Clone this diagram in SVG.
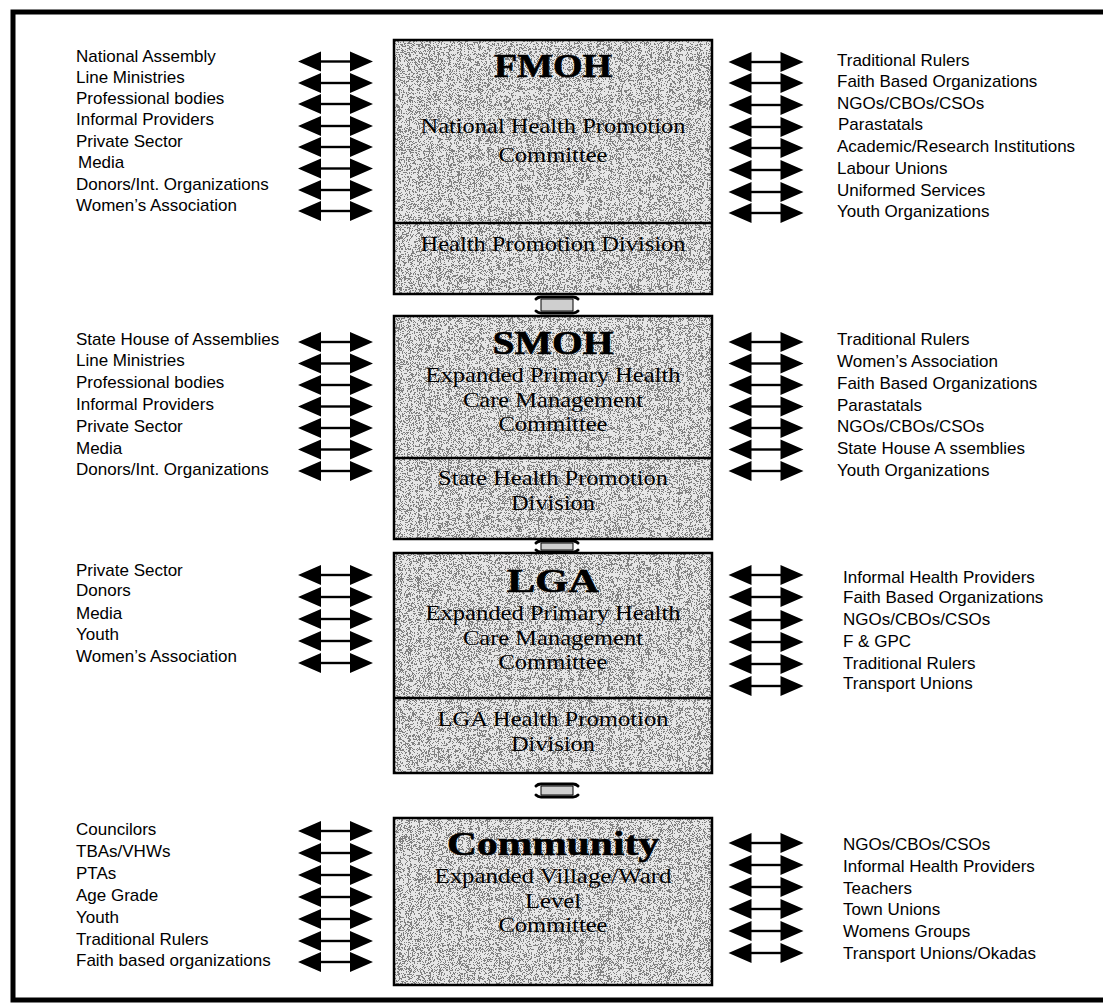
<svg xmlns="http://www.w3.org/2000/svg" xmlns:xlink="http://www.w3.org/1999/xlink" width="1103" height="1005" viewBox="0 0 1103 1005">
<style>
.lbl{font-family:"Liberation Sans",Arial,sans-serif;font-size:17px;fill:#000}
.bx{font-family:"Liberation Serif","Times New Roman",serif;font-size:22px;fill:#000;text-anchor:middle}
.tt{font-family:"Liberation Serif","Times New Roman",serif;font-size:33px;font-weight:bold;fill:#000;text-anchor:middle;stroke:#000;stroke-width:0.6}
.bg{fill:#e6e6e6;filter:url(#grain)}
.ol{fill:none;stroke:#000;stroke-width:2.5}
.dv{stroke:#000;stroke-width:2.5}
.cn{fill:#cfcfcf;stroke:#000;stroke-width:1}
.cb{stroke:#000;stroke-width:3;fill:none;stroke-linecap:round}
</style>
<defs>
<filter id="grain" x="0" y="0" width="1" height="1">
<feTurbulence type="fractalNoise" baseFrequency="1.1" numOctaves="1" seed="4" result="n"/>
<feColorMatrix in="n" type="matrix" values="0 0 0 0 0  0 0 0 0 0  0 0 0 0 0  1 0 0 0 0" result="a"/>
<feComponentTransfer in="a" result="t"><feFuncA type="discrete" tableValues="0 0 0 0 0 1 0 0 0 0"/></feComponentTransfer>
<feFlood flood-color="#808080" result="f"/>
<feComposite in="f" in2="t" operator="in" result="dots"/>
<feMerge result="m"><feMergeNode in="SourceGraphic"/><feMergeNode in="dots"/></feMerge>
<feComposite in="m" in2="SourceGraphic" operator="in"/>
</filter>
<g id="dbl">
<path d="M-37.5,0 L-14.5,-10 L-14.5,10 Z M37.5,0 L14.5,-10 L14.5,10 Z" fill="#000"/>
<line x1="-15" y1="0" x2="15" y2="0" stroke="#000" stroke-width="2.4"/>
</g>
</defs>
<rect x="0" y="0" width="1103" height="1005" fill="#fff"/>
<rect x="13" y="12" width="1100" height="988" fill="none" stroke="#000" stroke-width="5"/>

<g id="fmoh">
<rect x="394" y="40" width="318" height="254" class="bg"/>
<rect x="394" y="40" width="318" height="254" class="ol"/>
<line x1="394" y1="223" x2="712" y2="223" class="dv"/>
<text x="553" y="77" class="tt" textLength="118" lengthAdjust="spacingAndGlyphs">FMOH</text>
<text x="553" y="133" class="bx" textLength="265" lengthAdjust="spacingAndGlyphs">National Health Promotion</text>
<text x="553" y="162" class="bx" textLength="109" lengthAdjust="spacingAndGlyphs">Committee</text>
<text x="553" y="251" class="bx" textLength="265" lengthAdjust="spacingAndGlyphs">Health Promotion Division</text>
</g>

<g id="smoh">
<rect x="394" y="316" width="318" height="223" class="bg"/>
<rect x="394" y="316" width="318" height="223" class="ol"/>
<line x1="394" y1="458" x2="712" y2="458" class="dv"/>
<text x="553" y="354" class="tt" textLength="121" lengthAdjust="spacingAndGlyphs">SMOH</text>
<text x="553" y="382" class="bx" textLength="255" lengthAdjust="spacingAndGlyphs">Expanded Primary Health</text>
<text x="553" y="406.5" class="bx" textLength="180" lengthAdjust="spacingAndGlyphs">Care Management</text>
<text x="553" y="431" class="bx" textLength="109" lengthAdjust="spacingAndGlyphs">Committee</text>
<text x="553" y="485" class="bx" textLength="230" lengthAdjust="spacingAndGlyphs">State Health Promotion</text>
<text x="553" y="510" class="bx" textLength="84" lengthAdjust="spacingAndGlyphs">Division</text>
</g>

<g id="lga">
<rect x="394" y="553" width="318" height="220" class="bg"/>
<rect x="394" y="553" width="318" height="220" class="ol"/>
<line x1="394" y1="698" x2="712" y2="698" class="dv"/>
<text x="553" y="592" class="tt" textLength="92" lengthAdjust="spacingAndGlyphs">LGA</text>
<text x="553" y="620" class="bx" textLength="255" lengthAdjust="spacingAndGlyphs">Expanded Primary Health</text>
<text x="553" y="644.5" class="bx" textLength="180" lengthAdjust="spacingAndGlyphs">Care Management</text>
<text x="553" y="669" class="bx" textLength="109" lengthAdjust="spacingAndGlyphs">Committee</text>
<text x="553" y="726" class="bx" textLength="231" lengthAdjust="spacingAndGlyphs">LGA Health Promotion</text>
<text x="553" y="751" class="bx" textLength="84" lengthAdjust="spacingAndGlyphs">Division</text>
</g>

<g id="community">
<rect x="394" y="818" width="318" height="167" class="bg"/>
<rect x="394" y="818" width="318" height="167" class="ol"/>
<text x="553" y="855" class="tt" textLength="212" lengthAdjust="spacingAndGlyphs">Community</text>
<text x="553" y="883" class="bx" textLength="237" lengthAdjust="spacingAndGlyphs">Expanded Village/Ward</text>
<text x="553" y="907.5" class="bx" textLength="56" lengthAdjust="spacingAndGlyphs">Level</text>
<text x="553" y="932" class="bx" textLength="109" lengthAdjust="spacingAndGlyphs">Committee</text>
</g>

<g id="fmoh-left">
<text x="76" y="62" class="lbl">National Assembly</text>
<text x="76" y="83" class="lbl">Line Ministries</text>
<text x="76" y="104" class="lbl">Professional bodies</text>
<text x="76" y="125" class="lbl">Informal Providers</text>
<text x="76" y="147" class="lbl">Private Sector</text>
<text x="78" y="168" class="lbl">Media</text>
<text x="76" y="190" class="lbl">Donors/Int. Organizations</text>
<text x="76" y="211" class="lbl">Women’s Association</text>
</g>
<g id="fmoh-right">
<text x="837" y="66" class="lbl">Traditional Rulers</text>
<text x="837" y="87" class="lbl">Faith Based Organizations</text>
<text x="837" y="109" class="lbl">NGOs/CBOs/CSOs</text>
<text x="838" y="130" class="lbl">Parastatals</text>
<text x="837" y="152" class="lbl">Academic/Research Institutions</text>
<text x="837" y="174" class="lbl">Labour Unions</text>
<text x="837" y="196" class="lbl">Uniformed Services</text>
<text x="837" y="217" class="lbl">Youth Organizations</text>
</g>
<g id="smoh-left">
<text x="76" y="345" class="lbl">State House of Assemblies</text>
<text x="76" y="366" class="lbl">Line Ministries</text>
<text x="76" y="388" class="lbl">Professional bodies</text>
<text x="76" y="410" class="lbl">Informal Providers</text>
<text x="76" y="432" class="lbl">Private Sector</text>
<text x="76" y="454" class="lbl">Media</text>
<text x="76" y="475" class="lbl">Donors/Int. Organizations</text>
</g>
<g id="smoh-right">
<text x="837" y="345" class="lbl">Traditional Rulers</text>
<text x="837" y="367" class="lbl">Women’s Association</text>
<text x="837" y="389" class="lbl">Faith Based Organizations</text>
<text x="837" y="411" class="lbl">Parastatals</text>
<text x="837" y="432" class="lbl">NGOs/CBOs/CSOs</text>
<text x="837" y="454" class="lbl">State House A ssemblies</text>
<text x="837" y="476" class="lbl">Youth Organizations</text>
</g>
<g id="lga-left">
<text x="76" y="576" class="lbl">Private Sector</text>
<text x="76" y="595.5" class="lbl">Donors</text>
<text x="76" y="619" class="lbl">Media</text>
<text x="76" y="640" class="lbl">Youth</text>
<text x="76" y="662" class="lbl">Women’s Association</text>
</g>
<g id="lga-right">
<text x="843" y="583" class="lbl">Informal Health Providers</text>
<text x="843" y="603" class="lbl">Faith Based Organizations</text>
<text x="843" y="625" class="lbl">NGOs/CBOs/CSOs</text>
<text x="843" y="647" class="lbl">F &amp; GPC</text>
<text x="843" y="669" class="lbl">Traditional Rulers</text>
<text x="843" y="689" class="lbl">Transport Unions</text>
</g>
<g id="community-left">
<text x="76" y="835" class="lbl">Councilors</text>
<text x="76" y="857" class="lbl">TBAs/VHWs</text>
<text x="76" y="879" class="lbl">PTAs</text>
<text x="76" y="901" class="lbl">Age Grade</text>
<text x="76" y="923" class="lbl">Youth</text>
<text x="76" y="945" class="lbl">Traditional Rulers</text>
<text x="76" y="966" class="lbl">Faith based organizations</text>
</g>
<g id="community-right">
<text x="843" y="850" class="lbl">NGOs/CBOs/CSOs</text>
<text x="843" y="872" class="lbl">Informal Health Providers</text>
<text x="843" y="894" class="lbl">Teachers</text>
<text x="843" y="915" class="lbl">Town Unions</text>
<text x="843" y="937" class="lbl">Womens Groups</text>
<text x="843" y="959" class="lbl">Transport Unions/Okadas</text>
</g>

<g id="connectors">
<g id="level-links">
<path d="M541,299 H573 V311 H541 Z" class="cn"/>
<path d="M536,299 Q538,297 541,297 H573 Q576,297 578,299" class="cb"/>
<path d="M536,311 Q538,313 541,313 H573 Q576,313 578,311" class="cb"/>
<path d="M541,543 H573 V550 H541 Z" class="cn"/>
<path d="M536,543 Q538,541 541,541 H573 Q576,541 578,543" class="cb"/>
<path d="M536,550 Q538,552 541,552 H573 Q576,552 578,550" class="cb"/>
<path d="M541,786 H573 V795 H541 Z" class="cn"/>
<path d="M536,786 Q538,784 541,784 H573 Q576,784 578,786" class="cb"/>
<path d="M536,795 Q538,797 541,797 H573 Q576,797 578,795" class="cb"/>
</g>
<g id="arrows">
<use href="#dbl" x="335.5" y="61.5"/><use href="#dbl" x="335.5" y="83"/><use href="#dbl" x="335.5" y="104"/><use href="#dbl" x="335.5" y="126"/><use href="#dbl" x="335.5" y="147"/><use href="#dbl" x="335.5" y="168.5"/><use href="#dbl" x="335.5" y="190"/><use href="#dbl" x="335.5" y="211"/>
<use href="#dbl" x="766" y="62"/><use href="#dbl" x="766" y="83"/><use href="#dbl" x="766" y="105"/><use href="#dbl" x="766" y="127"/><use href="#dbl" x="766" y="148"/><use href="#dbl" x="766" y="170"/><use href="#dbl" x="766" y="192"/><use href="#dbl" x="766" y="213"/>
<use href="#dbl" x="335.5" y="342"/><use href="#dbl" x="335.5" y="363.5"/><use href="#dbl" x="335.5" y="385"/><use href="#dbl" x="335.5" y="406.5"/><use href="#dbl" x="335.5" y="428"/><use href="#dbl" x="335.5" y="449.5"/><use href="#dbl" x="335.5" y="471"/>
<use href="#dbl" x="766" y="342"/><use href="#dbl" x="766" y="363.5"/><use href="#dbl" x="766" y="385"/><use href="#dbl" x="766" y="406.5"/><use href="#dbl" x="766" y="428"/><use href="#dbl" x="766" y="449.5"/><use href="#dbl" x="766" y="471"/>
<use href="#dbl" x="335.5" y="575"/><use href="#dbl" x="335.5" y="597"/><use href="#dbl" x="335.5" y="619"/><use href="#dbl" x="335.5" y="641"/><use href="#dbl" x="335.5" y="663"/>
<use href="#dbl" x="766" y="575"/><use href="#dbl" x="766" y="597"/><use href="#dbl" x="766" y="620"/><use href="#dbl" x="766" y="642"/><use href="#dbl" x="766" y="664"/><use href="#dbl" x="766" y="686"/>
<use href="#dbl" x="335.5" y="831"/><use href="#dbl" x="335.5" y="853"/><use href="#dbl" x="335.5" y="875"/><use href="#dbl" x="335.5" y="897"/><use href="#dbl" x="335.5" y="919"/><use href="#dbl" x="335.5" y="941"/><use href="#dbl" x="335.5" y="962"/>
<use href="#dbl" x="766" y="843"/><use href="#dbl" x="766" y="865"/><use href="#dbl" x="766" y="887"/><use href="#dbl" x="766" y="909"/><use href="#dbl" x="766" y="931"/><use href="#dbl" x="766" y="953"/>
</g>
</g>
</svg>
